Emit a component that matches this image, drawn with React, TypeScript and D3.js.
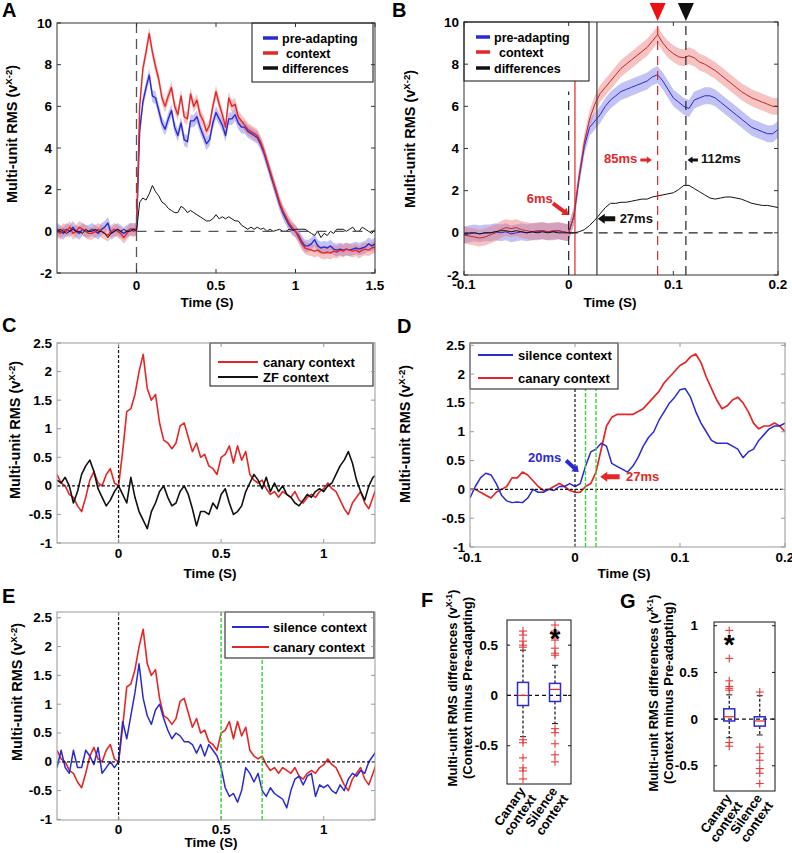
import * as d3 from 'd3';

const FONT = '"Liberation Sans", Arial, Helvetica, sans-serif';
const BLUE = '#2a2ad2';
const RED = '#e42626';
const GREEN = '#33d633';

// ---------- A: whole response (step 20 ms, -0.5 .. 1.5 s) ----------
const timeA = d3.range(0, 101).map(i => -0.5 + i * 0.02);
const preAdaptA = [
  0.1, 0.0, -0.1, 0.1, 0.0, 0.2, 0.0, -0.1, 0.1, 0.0, 0.0, 0.1, 0.0, -0.1, 0.1, 0.2, 0.4, -0.1, 0.0, 0.1, 0.0, -0.1, 0.0, 0.1, 0.1,
  0.1, 4.8, 6.2, 6.9, 7.5, 6.5, 6.4, 5.8, 5.2, 4.9,
  5.4, 5.8, 5.0, 4.6, 5.2, 4.4, 4.3, 5.3, 5.3, 5.5,
  5.0, 4.6, 4.2, 4.4, 5.2, 5.7, 5.4, 5.1, 4.6, 5.4,
  5.4, 5.6, 5.2, 5.0, 5.0, 4.8, 4.7, 4.6, 4.5, 4.2,
  3.8, 3.3, 2.8, 2.3, 1.8, 1.3, 0.9, 0.6, 0.3, 0.1,
  0.0, -0.2, -0.5, -0.7, -0.7, -0.6, -0.4, -0.7, -0.8, -0.75,
  -0.8, -0.7, -0.85, -0.9, -0.85, -0.9, -0.85, -0.9, -0.85, -0.8,
  -0.85, -0.8, -0.75, -0.6, -0.7, -0.6,
];
const contextA = [
  0.0, -0.1, 0.1, 0.0, 0.2, -0.1, 0.0, 0.2, 0.1, 0.0, -0.1, -0.1, 0.0, 0.1, 0.0, -0.1, -0.2, 0.0, 0.1, 0.0, -0.1, -0.3, -0.1, 0.1, 0.0,
  0.1, 6.0, 7.8, 8.6, 9.5, 8.6, 7.9, 7.3, 6.4, 6.0,
  6.5, 6.9, 6.0, 5.6, 6.5, 5.5, 5.4, 6.6, 6.0, 6.3,
  5.6, 5.3, 4.8, 5.1, 6.0, 6.7, 6.1, 5.6, 5.0, 6.4,
  6.0, 6.1, 5.5, 5.3, 5.1, 4.9, 4.8, 4.7, 4.6, 4.3,
  3.9, 3.4, 2.9, 2.4, 1.9, 1.4, 1.0, 0.7, 0.4, 0.2,
  0.0, -0.3, -0.6, -0.8, -0.85, -0.9, -0.95, -0.9, -1.0, -1.05,
  -1.0, -1.05, -0.95, -1.0, -0.9, -0.95, -0.85, -0.9, -0.95, -0.9,
  -1.0, -0.9, -0.85, -0.9, -0.8, -0.75,
];
const diffA = [
  0.0, 0.1, 0.0, -0.1, 0.0, 0.1, 0.0, 0.0, -0.1, 0.1, 0.0, 0.0, 0.1, 0.0, 0.0, -0.1, -0.3, -0.1, 0.0, 0.1, 0.0, 0.1, 0.0, 0.0, 0.1,
  0.0, 1.4, 1.6, 1.5, 1.8, 2.2, 1.9, 1.7, 1.4, 1.3,
  1.1, 1.0, 0.9, 0.9, 1.2, 1.1, 0.9, 1.0, 0.9, 0.8,
  0.7, 0.6, 0.5, 0.5, 0.6, 0.8, 0.6, 0.7, 0.6, 0.7,
  0.6, 0.5, 0.5, 0.3, 0.2, 0.1, 0.2, 0.1, 0.2, 0.1,
  0.15, 0.0, 0.1, 0.0, 0.05, 0.1, 0.0, 0.0, 0.1, 0.05,
  0.1, 0.1, 0.1, 0.1, 0.0, -0.1, -0.2, 0.0, -0.3, -0.1,
  -0.2, 0.0, -0.1, 0.1, 0.1, 0.1, 0.0, 0.1, 0.2, 0.0,
  0.0, 0.2, 0.1, 0.0, -0.1, 0.1,
];
const semA = 0.3;

// ---------- B: onset zoom (step 5 ms, -0.1 .. 0.2 s) ----------
const timeB = d3.range(0, 61).map(i => -0.1 + i * 0.005);
const preAdaptB = [
  -0.1, -0.05, 0.0, -0.05, 0.0, 0.0, 0.05, 0.0, 0.05, -0.05, 0.0, 0.05, 0.0, 0.05, 0.05, 0.1, 0.05, 0.05, 0.1, 0.05,
  0.0, 0.8, 2.6, 4.1, 5.0, 5.3, 5.6, 6.0, 6.3, 6.5,
  6.7, 6.8, 6.9, 7.0, 7.1, 7.2, 7.4, 7.5, 7.2, 6.8,
  6.4, 6.2, 6.0, 5.9, 6.3, 6.4, 6.5, 6.5, 6.4, 6.2,
  6.0, 5.8, 5.6, 5.4, 5.2, 5.0, 4.9, 4.8, 4.7, 4.7,
  4.9,
];
const contextB = [
  -0.1, -0.15, -0.2, -0.25, -0.2, -0.1, 0.0, 0.15, 0.25, 0.2, 0.25, 0.15, 0.1, 0.05, 0.1, 0.1, 0.05, 0.1, 0.1, 0.05,
  0.0, 0.8, 2.7, 4.3, 5.4, 6.1, 6.6, 6.9, 7.2, 7.5,
  7.8, 8.0, 8.2, 8.4, 8.6, 8.8, 9.1, 9.4, 9.0, 8.7,
  8.5, 8.35, 8.3, 8.4, 8.3, 8.1, 8.0, 7.85, 7.7, 7.5,
  7.3, 7.1, 6.9, 6.7, 6.55, 6.4, 6.3, 6.2, 6.1, 6.0,
  6.0,
];
const diffB = [
  -0.05, 0.0, 0.0, -0.05, 0.0, 0.0, 0.05, 0.1, 0.1, 0.05, 0.1, 0.05, 0.0, 0.05, 0.0, 0.05, 0.0, 0.05, 0.0, 0.0,
  0.0, 0.0, 0.05, 0.15, 0.35, 0.6, 0.9, 1.2, 1.4, 1.4,
  1.45, 1.45, 1.5, 1.55, 1.6, 1.6, 1.7, 1.75, 1.8, 1.85,
  1.9, 2.05, 2.25, 2.25, 2.1, 1.95, 1.8, 1.65, 1.6, 1.65,
  1.7, 1.7, 1.65, 1.6, 1.5, 1.4, 1.35, 1.3, 1.3, 1.25,
  1.2,
];
const semB = 0.4;
const peakTimesB = [0.085, 0.112];
const onsetTimesB = [0.006, 0.027];

// ---------- C / E: context differences (step 20 ms, -0.3 .. 1.26 s) ----------
const timeC = d3.range(0, 79).map(i => -0.3 + i * 0.02);
const canaryC = [
  0.2, 0.05, 0.0, -0.15, -0.2, -0.35, -0.45, -0.2, 0.1, 0.25, 0.05, 0.0, 0.2, 0.3, 0.05,
  0.0, 0.6, 1.3, 1.35, 1.6, 2.0, 2.3, 1.7, 1.5, 1.6,
  1.1, 0.8, 0.75, 0.65, 0.75, 1.05, 1.1, 0.85, 0.6, 0.75,
  0.5, 0.55, 0.35, 0.3, 0.2, 0.5, 0.55, 0.7, 0.4, 0.7,
  0.45, 0.6, 0.2, 0.1, 0.05, 0.1, -0.05, -0.15, -0.1, -0.2,
  -0.1, -0.15, -0.2, -0.1, -0.25, -0.3, -0.2, -0.15, -0.2, -0.1,
  -0.05, 0.05, -0.05, -0.1, -0.25, -0.4, -0.5, -0.3, -0.2, -0.1,
  -0.3, -0.4, -0.2, 0.0,
];
const zebraFinchC = [
  0.1, 0.05, 0.15, 0.0, -0.3, -0.1, 0.2, 0.35, 0.45, 0.25, -0.05, -0.2, -0.35, -0.25, -0.1,
  0.0, -0.15, -0.3, 0.15, -0.2, -0.45, -0.6, -0.75, -0.45, -0.3,
  -0.1, 0.0, -0.2, -0.35, -0.3, -0.1, 0.0, -0.15, -0.4, -0.7,
  -0.45, -0.45, -0.5, -0.3, -0.4, -0.15, -0.05, -0.3, -0.5, -0.45,
  -0.35, -0.1, 0.05, 0.2, 0.1, -0.05, 0.15, -0.1, 0.05, -0.1,
  0.0, -0.15, -0.2, -0.3, -0.35, -0.25, -0.15, -0.2, -0.1, -0.05,
  -0.1, 0.0, 0.05, 0.2, 0.35, 0.45, 0.6, 0.4, 0.1, -0.1,
  -0.25, 0.0, 0.15, 0.2,
];
const silenceE = [
  -0.1, 0.2, -0.1, -0.2, 0.2, -0.1, -0.1, 0.2, 0.1, -0.05, 0.25, -0.2, -0.1, 0.0, -0.1,
  0.0, 0.7, 0.4, 0.8, 1.2, 1.7, 1.1, 0.8, 0.65, 0.9,
  1.0, 0.75, 0.55, 0.4, 0.5, 0.45, 0.35, 0.35, 0.3, 0.15,
  0.3, 0.1, 0.3, 0.2, 0.1, -0.1, -0.45, -0.6, -0.55, -0.7,
  -0.5, -0.1, -0.2, -0.35, -0.2, -0.5, -0.6, -0.45, -0.55, -0.6,
  -0.65, -0.8, -0.5, -0.3, -0.25, -0.4, -0.25, -0.2, -0.6, -0.4,
  -0.45, -0.4, -0.5, -0.55, -0.4, -0.5, -0.3, -0.2, -0.25, -0.15,
  -0.2, 0.0, 0.1, 0.2,
];
const windowE = [0.5, 0.7];

// ---------- D: onset of context differences (step 5 ms) ----------
const timeD = timeB;
const silenceD = [
  -0.15, 0.05, 0.2, 0.28, 0.25, 0.1, -0.1, -0.2, -0.23, -0.22, -0.23, -0.15, 0.0, -0.05, -0.05, 0.0, -0.02, 0.05, 0.05, 0.1,
  0.05, 0.1, 0.4, 0.65, 0.7, 0.8, 0.75, 0.45, 0.4, 0.35,
  0.3, 0.4, 0.55, 0.75, 0.9, 1.0, 1.2, 1.35, 1.5, 1.6,
  1.73, 1.75, 1.6, 1.35, 1.15, 1.0, 0.85, 0.8, 0.8, 0.8,
  0.75, 0.7, 0.55, 0.65, 0.7, 0.85, 0.95, 1.05, 1.1, 1.1,
  1.15,
];
const canaryD = [
  0.0, 0.0, -0.05, -0.1, -0.15, -0.05, 0.0, 0.05, 0.2, 0.2, 0.3, 0.25, 0.15, 0.05, -0.02, 0.0, 0.05, 0.1, 0.05, -0.02,
  -0.05, -0.05, 0.05, 0.1, 0.3, 0.7, 1.1, 1.25, 1.3, 1.3,
  1.3, 1.3, 1.35, 1.4, 1.5, 1.6, 1.7, 1.85, 1.95, 2.05,
  2.15, 2.2, 2.3, 2.35, 2.2, 1.95, 1.75, 1.55, 1.4, 1.45,
  1.55, 1.6, 1.5, 1.35, 1.15, 1.05, 1.1, 1.1, 1.15, 1.1,
  1.0,
];
const onsetTimesD = [0.01, 0.02];

// ---------- F / G: box plots ----------
const boxCats = [['Canary', 'context'], ['Silence', 'context']];
const q1F = [-0.1, -0.06];
const medF = [0.0, 0.06];
const q3F = [0.13, 0.12];
const loF = [-0.41, -0.28];
const hiF = [0.45, 0.3];
const outF = [
  [0.64, 0.6, 0.54, 0.5, 0.48, -0.44, -0.47, -0.62, -0.72, -0.75, -0.83],
  [0.7, 0.64, 0.55, 0.47, 0.42, 0.4, -0.33, -0.37, -0.48, -0.59, -0.66],
];
const starF = [null, 0.62];

const q1G = [-0.02, -0.075];
const medG = [0.025, -0.02];
const q3G = [0.11, 0.025];
const loG = [-0.2, -0.17];
const hiG = [0.26, 0.25];
const outG = [
  [0.95, 0.65, 0.41, 0.35, 0.33, 0.31, -0.25, -0.29],
  [0.29, -0.3, -0.37, -0.44, -0.53, -0.58, -0.69],
];
const starG = [0.86, null];

const ticksAB = [-2, 0, 2, 4, 6, 8, 10];
const ticksCDE = [-1, -0.5, 0, 0.5, 1, 1.5, 2, 2.5];

// ---------------------------------------------------------------

type Trace = { t: number[]; v: number[]; color: string; width: number; band?: number; bandFill?: string };
type RefLine = { dir: 'v' | 'h'; at: number; from?: number; to?: number; color: string; dash?: string; width?: number };
type LegendSpec = {
  box: [number, number, number, number];
  rows: number[];
  swatch: [number, number];
  sw: number;
  textX: number;
  size: number;
  items: { label: string; color: string; dx?: number }[];
};

function YLabel({ x, y, sup, lines, size = 13 }: { x: number; y: number; sup: string; lines: string[]; size?: number }) {
  // first line carries the unit with superscript
  return (
    <text transform={`translate(${x},${y}) rotate(-90)`} textAnchor="middle" fontSize={size}>
      {lines[0]}
      <tspan dy={-5} fontSize={size * 0.66}>{sup}</tspan>
      <tspan dy={5}>)</tspan>
      {lines[1] && (
        <tspan x={0} dy={size + 2}>{lines[1]}</tspan>
      )}
    </text>
  );
}

function Arrow({ x1, y1, x2, y2, color, sw = 4, hl = 7, hw = 10 }: any) {
  const len = Math.hypot(x2 - x1, y2 - y1);
  const ang = (Math.atan2(y2 - y1, x2 - x1) * 180) / Math.PI;
  const pts = [[-len, -sw / 2], [-hl, -sw / 2], [-hl, -hw / 2], [0, 0], [-hl, hw / 2], [-hl, sw / 2], [-len, sw / 2]];
  return <polygon transform={`translate(${x2},${y2}) rotate(${ang})`} points={pts.map(p => p.join(',')).join(' ')} fill={color} />;
}

type PanelProps = {
  id: string;
  box: [number, number, number, number];
  xDomain: [number, number];
  yDomain: [number, number];
  xTicks: number[];
  yTicks: number[];
  frame: string;
  traces: Trace[];
  refs: RefLine[];
  legend: LegendSpec;
  tickBase: number;
  xLabel: [number, number];
  yLabel: [number, number];
  letter: [number, number];
  extra?: (x: d3.ScaleLinear<number, number>, y: d3.ScaleLinear<number, number>) => any;
};

function LinePanel(p: PanelProps) {
  const [l, r, t, b] = p.box;
  const x = d3.scaleLinear().domain(p.xDomain).range([l, r]);
  const y = d3.scaleLinear().domain(p.yDomain).range([b, t]);
  const clip = `clip-${p.id}`;
  const lg = p.legend;
  return (
    <g>
      <defs>
        <clipPath id={clip}>
          <rect x={l} y={t} width={r - l} height={b - t} />
        </clipPath>
      </defs>
      <g clipPath={`url(#${clip})`}>
        {p.traces.filter(s => s.band).map((s, i) => {
          const area = d3.area<number>()
            .x((_, k) => x(s.t[k]))
            .y0(d => y(d - (s.band as number)))
            .y1(d => y(d + (s.band as number)));
          return <path key={'b' + i} d={area(s.v) || ''} fill={s.bandFill} stroke="none" />;
        })}
        {p.traces.map((s, i) => {
          const line = d3.line<number>().x((_, k) => x(s.t[k])).y(d => y(d));
          return <path key={'l' + i} d={line(s.v) || ''} fill="none" stroke={s.color} strokeWidth={s.width} strokeLinejoin="round" />;
        })}
        {p.refs.map((rl, i) =>
          rl.dir === 'v' ? (
            <line key={'r' + i} x1={x(rl.at)} x2={x(rl.at)}
              y1={y(rl.from ?? p.yDomain[0])} y2={y(rl.to ?? p.yDomain[1])}
              stroke={rl.color} strokeWidth={rl.width ?? 1.2} strokeDasharray={rl.dash} />
          ) : (
            <line key={'r' + i} y1={y(rl.at)} y2={y(rl.at)}
              x1={x(rl.from ?? p.xDomain[0])} x2={x(rl.to ?? p.xDomain[1])}
              stroke={rl.color} strokeWidth={rl.width ?? 1.2} strokeDasharray={rl.dash} />
          )
        )}
      </g>

      {/* legend */}
      <rect x={lg.box[0]} y={lg.box[1]} width={lg.box[2]} height={lg.box[3]} fill="#fff" stroke="#111" strokeWidth={1} />
      {lg.items.map((it, i) => (
        <g key={it.label}>
          <line x1={lg.swatch[0]} x2={lg.swatch[1]} y1={lg.rows[i]} y2={lg.rows[i]} stroke={it.color} strokeWidth={lg.sw} />
          <text x={lg.textX + (it.dx ?? 0)} y={lg.rows[i] + lg.size * 0.36} fontSize={lg.size}>{it.label}</text>
        </g>
      ))}

      {/* frame + inward ticks */}
      <rect x={l} y={t} width={r - l} height={b - t} fill="none" stroke={p.frame} strokeWidth={1} />
      {p.xTicks.map(v => (
        <g key={'xt' + v} stroke={p.frame}>
          <line x1={x(v)} x2={x(v)} y1={b} y2={b - 4} />
          <line x1={x(v)} x2={x(v)} y1={t} y2={t + 4} />
        </g>
      ))}
      {p.yTicks.map(v => (
        <g key={'yt' + v} stroke={p.frame}>
          <line x1={l} x2={l + 4} y1={y(v)} y2={y(v)} />
          <line x1={r} x2={r - 4} y1={y(v)} y2={y(v)} />
        </g>
      ))}
      {p.xTicks.map(v => (
        <text key={'xl' + v} x={x(v)} y={p.tickBase} textAnchor="middle" fontSize={13.5}>{String(v)}</text>
      ))}
      {p.yTicks.map(v => (
        <text key={'yl' + v} x={l - 5} y={y(v) + 4.5} textAnchor="end" fontSize={13.5}>{String(v)}</text>
      ))}
      <text x={p.xLabel[0]} y={p.xLabel[1]} textAnchor="middle" fontSize={13.5}>Time (S)</text>
      <YLabel x={p.yLabel[0]} y={p.yLabel[1]} sup="X-2" lines={['Multi-unit RMS (v']} size={14.5} />
      <text x={p.letter[0]} y={p.letter[1]} fontSize={20}>{p.id}</text>
      {p.extra && p.extra(x, y)}
    </g>
  );
}

type BoxProps = {
  id: string;
  box: [number, number, number, number];
  yDomain: [number, number];
  yTicks: number[];
  q1: number[]; med: number[]; q3: number[]; lo: number[]; hi: number[];
  out: number[][];
  star: (number | null)[];
  tickRight: number;
  yLabel: [number, number];
  letter: [number, number];
};

function BoxPanel(p: BoxProps) {
  const [l, r, t, b] = p.box;
  const x = d3.scalePoint<number>().domain([0, 1]).range([l, r]).padding(0.5);
  const y = d3.scaleLinear().domain(p.yDomain).range([b, t]);
  const bw = 11;
  return (
    <g>
      <line x1={l} x2={r} y1={y(0)} y2={y(0)} stroke="#111" strokeWidth={1.3} strokeDasharray="4,3" />
      {boxCats.map((_, i) => {
        const cx = x(i) as number;
        return (
          <g key={i}>
            <line x1={cx} x2={cx} y1={y(p.q3[i])} y2={y(p.hi[i])} stroke="#111" strokeWidth={1.2} strokeDasharray="3,2" />
            <line x1={cx} x2={cx} y1={y(p.q1[i])} y2={y(p.lo[i])} stroke="#111" strokeWidth={1.2} strokeDasharray="3,2" />
            <line x1={cx - 3} x2={cx + 3} y1={y(p.hi[i])} y2={y(p.hi[i])} stroke="#111" strokeWidth={1} />
            <line x1={cx - 3} x2={cx + 3} y1={y(p.lo[i])} y2={y(p.lo[i])} stroke="#111" strokeWidth={1} />
            <rect x={cx - bw / 2} y={y(p.q3[i])} width={bw} height={y(p.q1[i]) - y(p.q3[i])} fill="none" stroke={BLUE} strokeWidth={1.5} />
            <line x1={cx - bw / 2} x2={cx + bw / 2} y1={y(p.med[i])} y2={y(p.med[i])} stroke={RED} strokeWidth={1.2} />
            {p.out[i].map((v, k) => (
              <g key={k} stroke="#e83a3a" strokeWidth={1.1}>
                <line x1={cx - 4} x2={cx + 4} y1={y(v)} y2={y(v)} />
                <line x1={cx} x2={cx} y1={y(v) - 4} y2={y(v) + 4} />
              </g>
            ))}
            {p.star[i] !== null && (
              <text x={cx} y={y(p.star[i] as number) + 15} textAnchor="middle" fontSize={28}>*</text>
            )}
            <text transform={`translate(${cx + 3},${b + 7}) rotate(-55)`} textAnchor="end" fontSize={13}>
              <tspan x={0} dy={0}>{boxCats[i][0]}</tspan>
              <tspan x={0} dy={13}>{boxCats[i][1]}</tspan>
            </text>
          </g>
        );
      })}
      <rect x={l} y={t} width={r - l} height={b - t} fill="none" stroke="#111" strokeWidth={1} />
      {p.yTicks.map(v => (
        <g key={v}>
          <line x1={l} x2={l + 3} y1={y(v)} y2={y(v)} stroke="#111" />
          <line x1={r} x2={r - 3} y1={y(v)} y2={y(v)} stroke="#111" />
          <text x={p.tickRight} y={y(v) + 4.5} textAnchor="end" fontSize={13.5}>{String(v)}</text>
        </g>
      ))}
      <YLabel x={p.yLabel[0]} y={p.yLabel[1]} sup="X-1"
        lines={['Multi-unit RMS differences (v', '(Context minus Pre-adapting)']} />
      <text x={p.letter[0]} y={p.letter[1]} fontSize={20}>{p.id}</text>
    </g>
  );
}

export default function App() {
  const shortDash = '3,2';
  const bandRed = 'rgba(238,120,120,0.45)';
  const bandBlue = 'rgba(120,120,230,0.45)';
  return (
    <svg width={792} height={853} style={{ position: 'absolute', left: 0, top: 0, background: '#fff' }}
      fontFamily={FONT} fontWeight="bold">
      <rect width={792} height={853} fill="#fff" />

      <LinePanel id="A" box={[57, 375, 23, 273]} xDomain={[-0.5, 1.5]} yDomain={[-2, 10]}
        xTicks={[0, 0.5, 1, 1.5]} yTicks={ticksAB} frame="#333"
        traces={[
          { t: timeA, v: preAdaptA, color: BLUE, width: 1.4, band: semA, bandFill: bandBlue },
          { t: timeA, v: contextA, color: RED, width: 1.4, band: semA, bandFill: bandRed },
          { t: timeA, v: diffA, color: '#111', width: 1 },
        ]}
        refs={[
          { dir: 'v', at: 0, color: '#555', dash: '10,6', width: 1.3 },
          { dir: 'h', at: 0, from: 0, color: '#555', dash: '10,8', width: 1.3 },
        ]}
        legend={{
          box: [252, 23, 121, 59], rows: [38, 53, 68], swatch: [263, 278], sw: 3.5, textX: 282, size: 12.5,
          items: [
            { label: 'pre-adapting', color: BLUE },
            { label: 'context', color: RED, dx: 4 },
            { label: 'differences', color: '#111' },
          ],
        }}
        tickBase={290} xLabel={[207, 307]} yLabel={[17, 134]} letter={[2, 17]}
      />

      <LinePanel id="B" box={[464, 778, 22, 275]} xDomain={[-0.1, 0.2]} yDomain={[-2, 10]}
        xTicks={[-0.1, 0, 0.1, 0.2]} yTicks={ticksAB} frame="#333"
        traces={[
          { t: timeB, v: preAdaptB, color: BLUE, width: 1, band: semB, bandFill: bandBlue },
          { t: timeB, v: contextB, color: '#c02828', width: 1, band: semB, bandFill: bandRed },
          { t: timeB, v: diffB, color: '#111', width: 1 },
        ]}
        refs={[
          { dir: 'v', at: 0, to: 6.7, color: '#222', dash: '9,6', width: 1.2 },
          { dir: 'v', at: onsetTimesB[0], to: 7.4, color: RED, width: 1.2 },
          { dir: 'v', at: onsetTimesB[1], color: '#444', width: 1.3 },
          { dir: 'v', at: peakTimesB[0], color: RED, dash: '9,6', width: 1.2 },
          { dir: 'v', at: peakTimesB[1], color: '#222', dash: '9,6', width: 1.2 },
          { dir: 'h', at: 0, from: 0, color: '#222', dash: '9,6', width: 1.2 },
        ]}
        legend={{
          box: [464, 22, 125, 59], rows: [37, 52, 68], swatch: [476, 490], sw: 3.5, textX: 494, size: 12.5,
          items: [
            { label: 'pre-adapting', color: BLUE },
            { label: 'context', color: RED, dx: 5 },
            { label: 'differences', color: '#111' },
          ],
        }}
        tickBase={289} xLabel={[610, 307]} yLabel={[415, 139]} letter={[392, 17]}
        extra={(x, y) => (
          <g fontSize={13}>
            {peakTimesB.map((pt, i) => (
              <polygon key={pt} transform={`translate(${x(pt)},0)`} points="-8,3 8,3 0,21"
                fill={i === 0 ? '#ee1111' : '#111'} />
            ))}
            <text x={x(0.0655)} y={y(3.3)} textAnchor="end" fill={RED}>85ms</text>
            <Arrow x1={x(0.0685)} y1={y(3.45)} x2={x(0.0795)} y2={y(3.45)} color={RED} sw={3} hl={5} hw={7} />
            <text x={x(0.1265)} y={y(3.3)} fill="#111">112ms</text>
            <Arrow x1={x(0.1235)} y1={y(3.45)} x2={x(0.1135)} y2={y(3.45)} color="#111" sw={3} hl={5} hw={7} />
            <text x={x(-0.04)} y={y(1.43)} fill={RED}>6ms</text>
            <Arrow x1={x(-0.015)} y1={y(1.4)} x2={x(0.0)} y2={y(0.85)} color={RED} sw={4} hl={6} hw={9} />
            <text x={x(0.0487)} y={y(0.48)} fill="#111">27ms</text>
            <Arrow x1={x(0.0445)} y1={y(0.67)} x2={x(0.0278)} y2={y(0.67)} color="#111" sw={5} hl={7} hw={10} />
          </g>
        )}
      />

      <LinePanel id="C" box={[57, 375, 343, 543]} xDomain={[-0.3, 1.25]} yDomain={[-1, 2.5]}
        xTicks={[0, 0.5, 1]} yTicks={ticksCDE} frame="#999"
        traces={[
          { t: timeC, v: canaryC, color: RED, width: 1.6 },
          { t: timeC, v: zebraFinchC, color: '#111', width: 1.6 },
        ]}
        refs={[
          { dir: 'v', at: 0, color: '#111', dash: shortDash, width: 1.2 },
          { dir: 'h', at: 0, color: '#111', dash: shortDash, width: 1.2 },
        ]}
        legend={{
          box: [210, 343, 163, 43], rows: [362, 377], swatch: [218, 258], sw: 2, textX: 263, size: 13,
          items: [
            { label: 'canary context', color: RED },
            { label: 'ZF context', color: '#111' },
          ],
        }}
        tickBase={558} xLabel={[210, 578]} yLabel={[20, 430]} letter={[2, 332]}
      />

      <LinePanel id="D" box={[470, 785, 343, 547]} xDomain={[-0.1, 0.2]} yDomain={[-1, 2.54]}
        xTicks={[-0.1, 0, 0.1, 0.2]} yTicks={ticksCDE} frame="#999"
        traces={[
          { t: timeD, v: canaryD, color: RED, width: 1.7 },
          { t: timeD, v: silenceD, color: BLUE, width: 1.5 },
        ]}
        refs={[
          { dir: 'v', at: 0, color: '#111', dash: shortDash, width: 1.2 },
          { dir: 'h', at: 0, color: '#111', dash: shortDash, width: 1.2 },
          { dir: 'v', at: onsetTimesD[0], color: GREEN, dash: '4,2', width: 1.4 },
          { dir: 'v', at: onsetTimesD[1], color: GREEN, dash: '4,2', width: 1.4 },
        ]}
        legend={{
          box: [470, 343, 148, 46], rows: [355, 378], swatch: [478, 513], sw: 2, textX: 518, size: 13,
          items: [
            { label: 'silence context', color: BLUE },
            { label: 'canary context', color: RED },
          ],
        }}
        tickBase={562} xLabel={[624, 578]} yLabel={[410, 434]} letter={[397, 333]}
        extra={(x, y) => (
          <g fontSize={13}>
            <text x={x(-0.0448)} y={y(0.476)} fill={BLUE}>20ms</text>
            <Arrow x1={x(-0.0085)} y1={y(0.5)} x2={x(0.0035)} y2={y(0.3)} color={BLUE} sw={4} hl={6} hw={9} />
            <text x={x(0.0486)} y={y(0.15)} fill={RED}>27ms</text>
            <Arrow x1={x(0.0425)} y1={y(0.22)} x2={x(0.024)} y2={y(0.22)} color={RED} sw={5} hl={7} hw={10} />
          </g>
        )}
      />

      <LinePanel id="E" box={[57, 375, 612, 820]} xDomain={[-0.3, 1.25]} yDomain={[-1.01, 2.6]}
        xTicks={[0, 0.5, 1]} yTicks={ticksCDE} frame="#999"
        traces={[
          { t: timeC, v: canaryC, color: RED, width: 1.6 },
          { t: timeC, v: silenceE, color: BLUE, width: 1.5 },
        ]}
        refs={[
          { dir: 'v', at: 0, color: '#111', dash: shortDash, width: 1.2 },
          { dir: 'h', at: 0, color: '#111', dash: shortDash, width: 1.2 },
          { dir: 'v', at: windowE[0], color: GREEN, dash: '4,2', width: 1.4 },
          { dir: 'v', at: windowE[1], color: GREEN, dash: '4,2', width: 1.4 },
        ]}
        legend={{
          box: [225, 612, 149, 46], rows: [627, 647], swatch: [232, 269], sw: 2, textX: 273, size: 13,
          items: [
            { label: 'silence context', color: BLUE },
            { label: 'canary context', color: RED },
          ],
        }}
        tickBase={834} xLabel={[211, 847]} yLabel={[22, 692]} letter={[2, 603]}
      />

      <BoxPanel id="F" box={[507, 571, 620, 784]} yDomain={[-0.88, 0.75]} yTicks={[-0.5, 0, 0.5]}
        q1={q1F} med={medF} q3={q3F} lo={loF} hi={hiF} out={outF} star={starF}
        tickRight={498} yLabel={[457, 688]} letter={[421, 607]} />

      <BoxPanel id="G" box={[714, 775, 622, 791]} yDomain={[-0.77, 1.04]} yTicks={[-0.5, 0, 0.5, 1]}
        q1={q1G} med={medG} q3={q3G} lo={loG} hi={hiG} out={outG} star={starG}
        tickRight={698} yLabel={[658, 693]} letter={[620, 608]} />
    </svg>
  );
}
